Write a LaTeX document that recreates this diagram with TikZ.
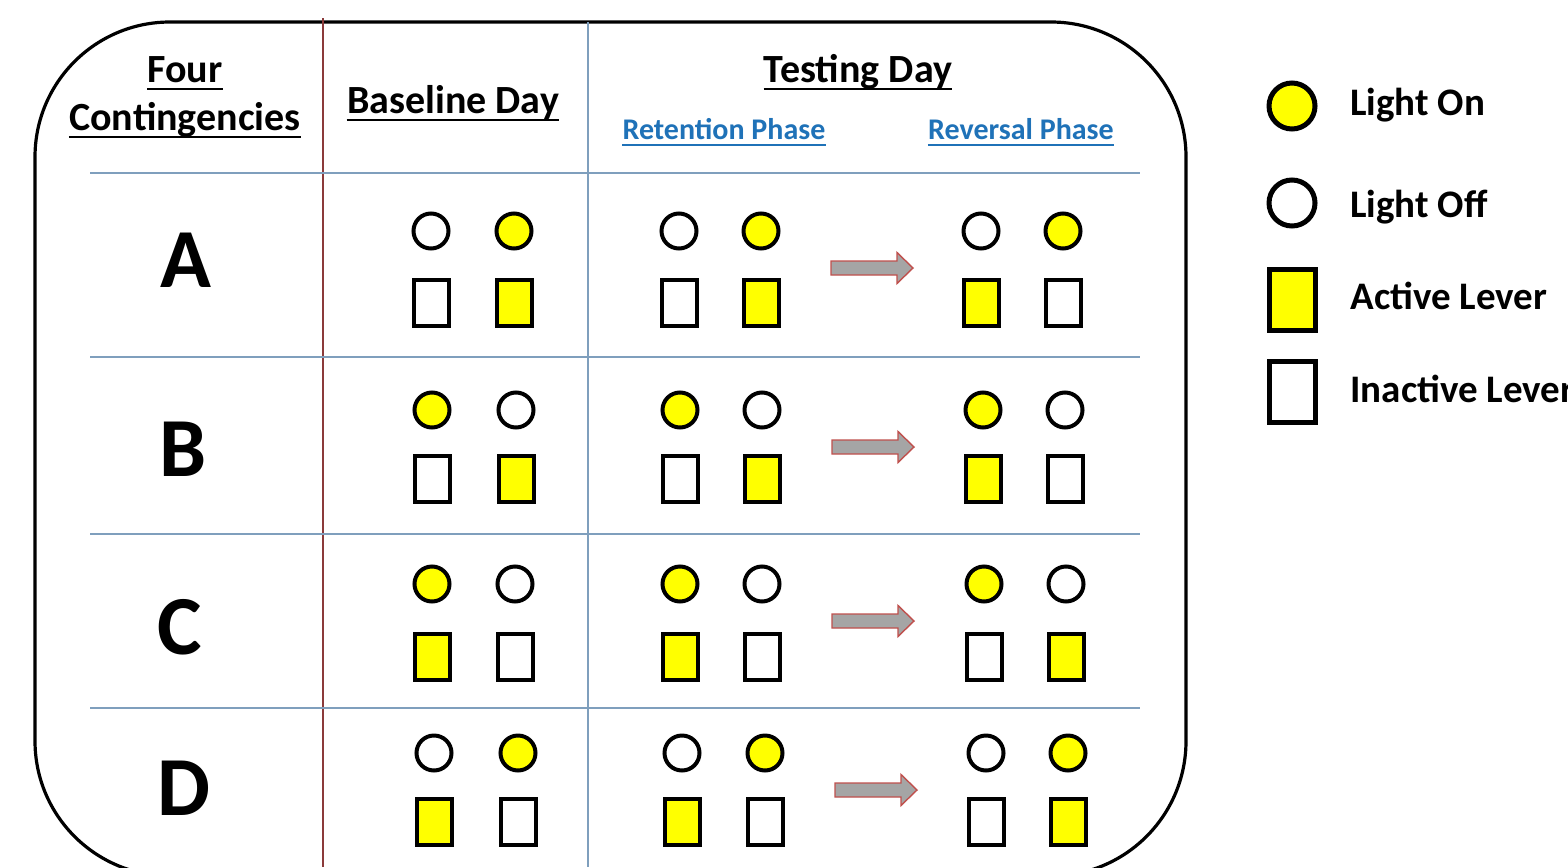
\documentclass[tikz,border=0pt]{standalone}
\usepackage{fontspec}
\setmainfont{Carlito}
\definecolor{lampyellow}{HTML}{FFFF00}
\definecolor{phaseblue}{HTML}{1F72B8}
\definecolor{gridblue}{HTML}{7F9FBD}
\definecolor{gridred}{HTML}{8B3A3A}
\definecolor{arrowfill}{HTML}{A5A5A5}
\definecolor{arrowedge}{HTML}{C0504D}
\newcommand\fs[1]{\fontsize{#1}{1.2\dimexpr#1\relax}\selectfont\bfseries}
\newcommand\pairs[9]{%
  \node[#6] (#1c1) at (#2,#4) {};
  \node[#7] (#1c2) at (#3,#4) {};
  \node[#8] (#1r1) at (#2,#5) {};
  \node[#9] (#1r2) at (#3,#5) {};}
\newcommand\blockarrow[4]{%
  \coordinate (#1) at (#2,#4);
  \draw[blockarr] (#2,{#4-7}) -- ({#3-16},{#4-7}) -- ({#3-16},{#4-15.5}) -- (#3,#4)
    -- ({#3-16},{#4+15.5}) -- ({#3-16},{#4+7}) -- (#2,{#4+7}) -- cycle;}
\tikzset{
  lampon/.style={circle, draw=black, fill=lampyellow, line width=2pt, minimum size=17.5pt, inner sep=0pt},
  lampoff/.style={circle, draw=black, fill=white, line width=2pt, minimum size=17.5pt, inner sep=0pt},
  levact/.style={rectangle, draw=black, fill=lampyellow, line width=2pt, minimum width=17.5pt, minimum height=23pt, inner sep=0pt},
  levin/.style={rectangle, draw=black, fill=white, line width=2pt, minimum width=17.5pt, minimum height=23pt, inner sep=0pt},
  keyon/.style={lampon, line width=2.5pt, minimum size=23pt},
  keyoff/.style={lampoff, line width=2.5pt, minimum size=23pt},
  keyact/.style={levact, line width=2.5pt, minimum width=23pt, minimum height=30.5pt},
  keyin/.style={levin, line width=2.5pt, minimum width=23pt, minimum height=30.5pt},
  blockarr/.style={draw=arrowedge, fill=arrowfill, line width=0.7pt, line join=miter},
  frame/.style={draw=black, line width=1.6pt, rounded corners=67.5pt},
  hline/.style={draw=gridblue, line width=1pt},
  vred/.style={draw=gridred, line width=0.8pt},
  vblue/.style={draw=gridblue, line width=0.8pt},
  head/.style={anchor=base, inner sep=0pt, font=\fs{20pt}},
  phase/.style={anchor=base, inner sep=0pt, text=phaseblue, font=\fs{15pt}},
  letter/.style={anchor=base, inner sep=0pt, font=\fs{42pt}},
  keytext/.style={anchor=base west, inner sep=0pt, font=\fs{19.5pt}},
  ul/.style={draw=black, line width=1pt},
  ulblue/.style={draw=phaseblue, line width=1pt},
}
\begin{document}
\begin{tikzpicture}[x=0.5pt,y=-0.5pt]
\useasboundingbox (0,0) rectangle (1568,867);
\clip (0,0) rectangle (1568,867);
\fill[white] (0,0) rectangle (1568,867);
% frame
\draw[frame] (35,22) rectangle (1186,876);
% grid lines
\draw[vred] (323,18) -- (323,867);
\draw[vblue] (588,22) -- (588,867);
\foreach \yy in {173,357,534,708} \draw[hline] (90,\yy) -- (1140,\yy);
% headers
\node[head] (four) at (185,82) {Four};
\node[head] (cont) at (185,130) {Contingencies};
\node[head] (baseday) at (453,113) {Baseline Day};
\node[head] (testday) at (858,82) {Testing Day};
\node[phase] (ret) at (724,139) {Retention Phase};
\node[phase] (rev) at (1021,139) {Reversal Phase};
\foreach \n in {four,cont,baseday,testday}
  \draw[ul] ([yshift=-3.5pt]\n.base west) -- ([yshift=-3.5pt]\n.base east);
\foreach \n in {ret,rev}
  \draw[ulblue] ([yshift=-3pt]\n.base west) -- ([yshift=-3pt]\n.base east);
% row letters
\node[letter] (lA) at (186,287) {A};
\node[letter] (lB) at (183,476) {B};
\node[letter] (lC) at (180,654) {C};
\node[letter] (lD) at (184,815) {D};
% row A
\pairs{Ab}{431}{514}{231}{303}{lampoff}{lampon}{levin}{levact}
\pairs{At}{679}{761}{231}{303}{lampoff}{lampon}{levin}{levact}
\pairs{Ar}{981}{1063}{231}{303}{lampoff}{lampon}{levact}{levin}
\blockarrow{arA}{831}{913}{268}
% row B
\pairs{Bb}{432}{516}{410}{479}{lampon}{lampoff}{levin}{levact}
\pairs{Bt}{680}{762}{410}{479}{lampon}{lampoff}{levin}{levact}
\pairs{Br}{983}{1065}{410}{479}{lampon}{lampoff}{levact}{levin}
\blockarrow{arB}{832}{914}{447}
% row C
\pairs{Cb}{432}{515}{584}{657}{lampon}{lampoff}{levact}{levin}
\pairs{Ct}{680}{762}{584}{657}{lampon}{lampoff}{levact}{levin}
\pairs{Cr}{984}{1066}{584}{657}{lampon}{lampoff}{levin}{levact}
\blockarrow{arC}{832}{914}{621}
% row D
\pairs{Db}{434}{518}{753}{822}{lampoff}{lampon}{levact}{levin}
\pairs{Dt}{682}{765}{753}{822}{lampoff}{lampon}{levact}{levin}
\pairs{Dr}{986}{1068}{753}{822}{lampoff}{lampon}{levin}{levact}
\blockarrow{arD}{835}{917}{790}
% legend
\node[keyon] (kon) at (1292,106) {};
\node[keyoff] (koff) at (1292,203) {};
\node[keyact] (kact) at (1292,300) {};
\node[keyin] (kin) at (1292,392) {};
\node[keytext] (ton) at (1350,115) {Light On};
\node[keytext] (toff) at (1350,217) {Light Off};
\node[keytext] (tact) at (1350,309) {Active Lever};
\node[keytext] (tin) at (1350,402) {Inactive Lever};
\end{tikzpicture}
\end{document}
